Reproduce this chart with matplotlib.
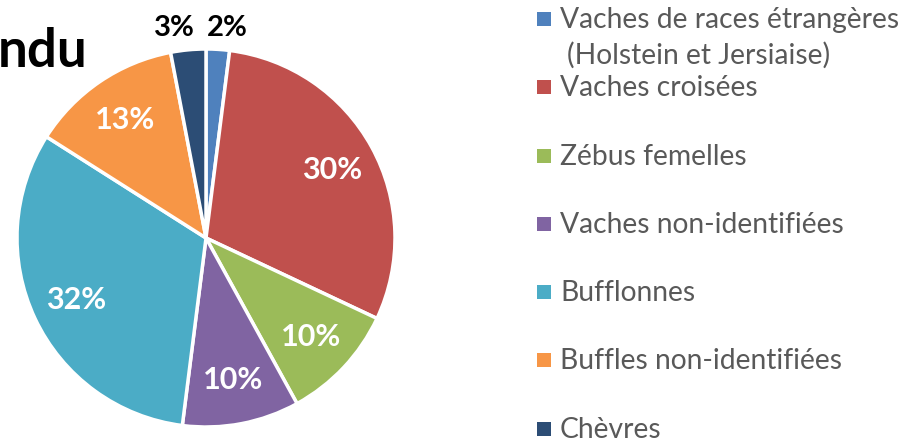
import numpy as np
import matplotlib
matplotlib.use("Agg")
import matplotlib.pyplot as plt
from matplotlib.patches import Rectangle

categories = ["Vaches de races étrangères", "Vaches croisées", "Zébus femelles",
              "Vaches non-identifiées", "Bufflonnes", "Buffles non-identifiées", "Chèvres"]
legend_labels = ["Vaches de races étrangères\n(Holstein et Jersiaise)", "Vaches croisées",
                 "Zébus femelles", "Vaches non-identifiées", "Bufflonnes",
                 "Buffles non-identifiées", "Chèvres"]
values = [2, 30, 10, 10, 32, 13, 3]
colors = ["#4F81BD", "#C0504D", "#9BBB59", "#8064A2", "#4BACC6", "#F79646", "#2C4D75"]
title_fragment = "ndu"

W, H = 906, 439
plt.rcParams['font.family'] = ['Lato', 'DejaVu Sans']
fig = plt.figure(figsize=(W / 100, H / 100), dpi=100)

cx, cy, r = 206, 239, 189
ax = fig.add_axes([(cx - r) / W, (H - cy - r) / H, 2 * r / W, 2 * r / H])

wedges, _ = ax.pie(values, colors=colors, startangle=90, counterclock=False, radius=1,
                   wedgeprops=dict(edgecolor='white', linewidth=2.5))
ax.set_xlim(-1, 1)
ax.set_ylim(-1, 1)
ax.axis('off')

for w, v in zip(wedges, values):
    mid = np.deg2rad((w.theta1 + w.theta2) / 2)
    if v >= 5:
        d = 0.76
        ax.text(d * np.cos(mid), d * np.sin(mid), f"{v}%", ha='center', va='center',
                color='white', fontsize=22, fontweight='bold', clip_on=False)
    else:
        d = 1.12
        ax.text(1.6 * d * np.cos(mid), d * np.sin(mid), f"{v}%", ha='center', va='center',
                color='black', fontsize=21, fontweight='bold', clip_on=False)

# title fragment (cut off at the left edge, as in the reference)
fig.text(-2 / W, 1 - 67 / H, title_fragment, ha='left', va='baseline', fontsize=38,
         fontweight='bold', color='black')

# legend
row_y = [20, 88, 157, 225, 293, 361, 430]
sq = 14
for lab, col, y in zip(legend_labels, colors, row_y):
    fig.patches.append(Rectangle((537 / W, 1 - (y + sq / 2) / H), sq / W, sq / H,
                                 transform=fig.transFigure, facecolor=col, edgecolor='none'))
    lines = lab.split("\n")
    fig.text(560 / W, 1 - y / H, lines[0], ha='left', va='center', fontsize=20.3, color='#595959')
    for k, extra in enumerate(lines[1:], start=1):
        fig.text(567 / W, 1 - (y + 35 * k) / H, extra, ha='left', va='center', fontsize=20.3,
                 color='#595959')

fig.savefig("out.png", dpi=100)
